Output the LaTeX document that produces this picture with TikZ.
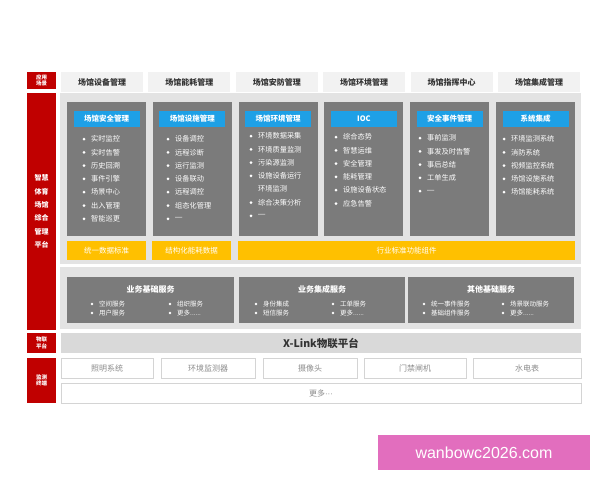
\documentclass[tikz,border=0pt]{standalone}
\usepackage{fontspec}
\setmainfont{Noto Sans CJK SC}
\newfontfamily\wmfont{Liberation Sans}
\definecolor{rd}{HTML}{C00000}
\definecolor{pnl}{HTML}{E3E3E3}
\definecolor{hdr}{HTML}{F2F2F2}
\definecolor{gbox}{HTML}{7B7B7B}
\definecolor{blu}{HTML}{1EA0E6}
\definecolor{ylw}{HTML}{FFC000}
\definecolor{xbar}{HTML}{D9D9D9}
\definecolor{dbord}{HTML}{D4D4D4}
\definecolor{dtext}{HTML}{8C8C8C}
\definecolor{wm}{HTML}{E26EBE}
\newcommand\gengduo{更多......}
\newcommand\dsh{{\wmfont\raisebox{-1.5pt}{—}}}
\newcommand\blist[4]{%
  \foreach \t [count=\k] in {#4} {
    \node[dot] (#1d\k) at (#2, {#3+13.3*(\k-1)}) {};
    \node[item] (#1t\k) at ({#2+7}, {#3+13.3*(\k-1)}) {\t};
  }}
\begin{document}
\begin{tikzpicture}[x=1pt,y=-1pt,
  box/.style={anchor=north west, inner sep=0pt, outer sep=0pt},
  redlab/.style={box, fill=rd, text=white, font=\fontsize{5.5}{6.5}\selectfont\bfseries, align=center},
  hcell/.style={box, fill=hdr, text=black!80, font=\fontsize{8}{9}\selectfont\bfseries},
  panel/.style={box, fill=pnl},
  col/.style={box, fill=gbox},
  bluehd/.style={anchor=center, inner sep=0pt, fill=blu, text=white, minimum width=66pt, minimum height=16pt, font=\fontsize{7.5}{8}\selectfont\bfseries},
  ybar/.style={box, fill=ylw, text=white, font=\fontsize{7.5}{8}\selectfont},
  svc/.style={box, fill=gbox},
  svctitle/.style={anchor=center, inner sep=0pt, text=white, font=\fontsize{8}{9}\selectfont\bfseries},
  dot/.style={circle, fill=white, inner sep=0pt, minimum size=3pt},
  item/.style={anchor=west, inner sep=0pt, text=white, font=\fontsize{7.2}{8}\selectfont},
  sitem/.style={anchor=west, inner sep=0pt, text=white, font=\fontsize{6.5}{7}\selectfont},
  dev/.style={box, fill=white, draw=dbord, line width=0.6pt, text=dtext, font=\fontsize{8}{9}\selectfont},
]
\useasboundingbox (0,0) rectangle (600,480);
\fill[white] (0,0) rectangle (600,480);

% left red labels
\node[redlab, minimum width=29pt, minimum height=17pt] (lA) at (27,72) {应用\\场景};
\node[redlab, minimum width=29pt, minimum height=237pt, font=\fontsize{7}{13.4}\selectfont\bfseries] (lB) at (27,93) {智慧\\体育\\场馆\\综合\\管理\\平台};
\node[redlab, minimum width=29pt, minimum height=20pt] (lC) at (27,333) {物联\\平台};
\node[redlab, minimum width=29pt, minimum height=45pt] (lD) at (27,358) {监测\\终端};

% header cells
\foreach \t [count=\i] in {场馆设备管理,场馆能耗管理,场馆安防管理,场馆环境管理,场馆指挥中心,场馆集成管理}
  \node[hcell, minimum width=82pt, minimum height=20pt] (h\i) at ({61+87.4*(\i-1)},72) {\t};

% upper panel
\node[panel, minimum width=521pt, minimum height=171pt] (up) at (60,93) {};

% columns
\foreach \t [count=\i] in {场馆安全管理,场馆设施管理,场馆环境管理,IOC,安全事件管理,系统集成} {
  \node[col, minimum width=79pt, minimum height=134pt] (c\i) at ({67+85.8*(\i-1)},102) {};
  \node[bluehd] (b\i) at ({67+85.8*(\i-1)+39.5},118.5) {\t};
}

\blist{p1}{84}{139}{实时监控,实时告警,历史回溯,事件引擎,场景中心,出入管理,智能巡更}
\blist{p2}{168}{139}{设备调控,远程诊断,运行监测,设备联动,远程调控,组态化管理,\dsh}
% column 3 (wrapped item)
\node[dot] (p3d1) at (251,136) {};
\node[item] (p3t1) at (258,136) {环境数据采集};
\node[dot] (p3d2) at (251,149.3) {};
\node[item] (p3t2) at (258,149.3) {环境质量监测};
\node[dot] (p3d3) at (251,162.6) {};
\node[item] (p3t3) at (258,162.6) {污染源监测};
\node[dot] (p3d4) at (251,175.9) {};
\node[item] (p3t4) at (258,175.9) {设施设备运行};
\node[item] (p3t4b) at (258,189.2) {环境监测};
\node[dot] (p3d5) at (251,202.5) {};
\node[item] (p3t5) at (258,202.5) {综合决策分析};
\node[dot] (p3d6) at (251,215.8) {};
\node[item] (p3t6) at (258,215.8) {\dsh};
\blist{p4}{336}{137}{综合态势,智慧运维,安全管理,能耗管理,设施设备状态,应急告警}
\blist{p5}{420}{138}{事前监测,事发及时告警,事后总结,工单生成,\dsh}
\blist{p6}{504}{139}{环境监测系统,消防系统,视频监控系统,场馆设施系统,场馆能耗系统}

% yellow bars
\node[ybar, minimum width=79pt, minimum height=19pt] (y1) at (67,241) {统一数据标准};
\node[ybar, minimum width=79pt, minimum height=19pt] (y2) at (152,241) {结构化能耗数据};
\node[ybar, minimum width=337pt, minimum height=19pt] (y3) at (238,241) {行业标准功能组件};

% lower panel
\node[panel, minimum width=521pt, minimum height=62pt] (lo) at (60,267) {};

% service boxes
\node[svc, minimum width=167pt, minimum height=46pt] (s1) at (67,277) {};
\node[svc, minimum width=166pt, minimum height=46pt] (s2) at (239,277) {};
\node[svc, minimum width=166pt, minimum height=46pt] (s3) at (408,277) {};
\node[svctitle] (s1t) at (150.5,289) {业务基础服务};
\node[svctitle] (s2t) at (322,289) {业务集成服务};
\node[svctitle] (s3t) at (491,289) {其他基础服务};

\foreach \n/\bx/\ta/\tb in {q1/92/空间服务/用户服务, q2/170/组织服务/\gengduo, q3/256/身份集成/短信服务, q4/333/工单服务/\gengduo, q5/424/统一事件服务/基础组件服务, q6/503/场景联动服务/\gengduo} {
  \node[dot, minimum size=2.8pt] (\n da) at (\bx,304) {};
  \node[sitem] (\n ta) at (\bx+7,304) {\ta};
  \node[dot, minimum size=2.8pt] (\n db) at (\bx,313) {};
  \node[sitem] (\n tb) at (\bx+7,313) {\tb};
}

% X-Link bar
\node[box, fill=xbar, minimum width=520pt, minimum height=20pt, text=black!80, font=\fontsize{10.5}{12}\selectfont\bfseries] (xl) at (61,333) {X-Link物联平台};

% devices
\node[dev, minimum width=92pt, minimum height=20pt] (d1) at (61,358) {照明系统};
\node[dev, minimum width=94pt, minimum height=20pt] (d2) at (161,358) {环境监测器};
\node[dev, minimum width=94pt, minimum height=20pt] (d3) at (263,358) {摄像头};
\node[dev, minimum width=102pt, minimum height=20pt] (d4) at (364,358) {门禁闸机};
\node[dev, minimum width=108pt, minimum height=20pt] (d5) at (473,358) {水电表};
\node[dev, minimum width=520pt, minimum height=20pt] (d6) at (61,383) {更多{\wmfont ···}};

% watermark
\node[box, fill=wm, minimum width=212pt, minimum height=35pt, text=white, font=\wmfont\fontsize{16}{18}\selectfont] (wmk) at (378,435) {wanbowc2026.com};
\end{tikzpicture}
\end{document}
